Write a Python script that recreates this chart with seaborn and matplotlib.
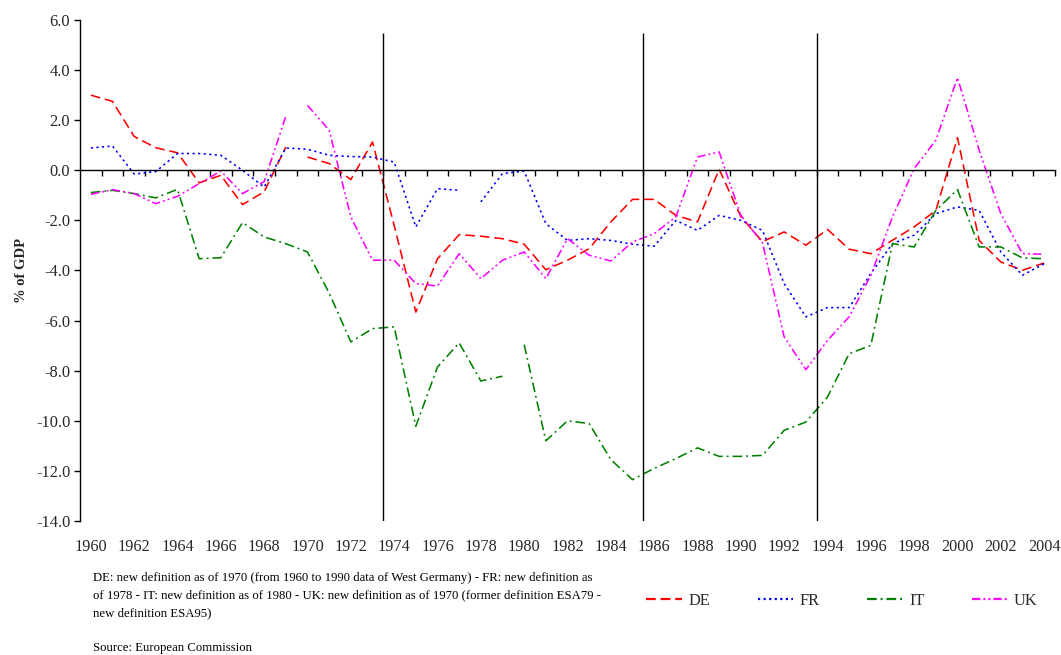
import numpy as np
import pandas as pd
import matplotlib
matplotlib.use("Agg")
import matplotlib.pyplot as plt
from matplotlib.lines import Line2D
import seaborn as sns

years = list(range(1960, 2005))

# breaks (new definitions) handled via segment start years
de = [3.0, 2.75, 1.35, 0.9, 0.7, -0.5, -0.2, -1.37, -0.86, 0.93,
      0.53, 0.27, -0.37, 1.13, -2.2, -5.66, -3.53, -2.57, -2.63, -2.73,
      -2.95, -3.97, -3.59, -3.13, -2.06, -1.16, -1.16, -1.8, -2.06, 0.04,
      -1.85, -2.85, -2.46, -2.99, -2.36, -3.15, -3.33, -2.79, -2.26, -1.6,
      1.3, -2.8, -3.66, -3.99, -3.7]
fr = [0.89, 0.97, -0.15, -0.05, 0.67, 0.67, 0.6, 0.0, -0.67, 0.89,
      0.84, 0.6, 0.55, 0.53, 0.33, -2.26, -0.73, -0.8, -1.26, -0.13,
      -0.03, -2.13, -2.8, -2.73, -2.8, -2.95, -3.03, -2.0, -2.4, -1.8,
      -2.0, -2.4, -4.52, -5.85, -5.48, -5.48, -4.12, -2.93, -2.59, -1.73,
      -1.46, -1.6, -3.26, -4.19, -3.73]
it = [-0.89, -0.8, -0.93, -1.1, -0.76, -3.53, -3.49, -2.09, -2.66, -2.93,
      -3.26, -4.9, -6.85, -6.32, -6.25, -10.22, -7.85, -6.89, -8.41, -8.22,
      -6.96, -10.8, -10.0, -10.11, -11.55, -12.35, -11.9, -11.51, -11.08, -11.42,
      -11.42, -11.38, -10.38, -10.05, -9.05, -7.32, -6.99, -2.93, -3.06, -1.6,
      -0.77, -3.06, -3.06, -3.5, -3.53]
uk = [-0.96, -0.77, -0.93, -1.33, -1.04, -0.53, -0.03, -0.93, -0.45, 2.16,
      2.59, 1.6, -1.86, -3.59, -3.59, -4.52, -4.62, -3.33, -4.32, -3.59,
      -3.26, -4.32, -2.73, -3.39, -3.62, -2.86, -2.53, -1.86, 0.53, 0.73,
      -1.8, -2.9, -6.65, -7.96, -6.79, -5.85, -4.19, -1.86, 0.07, 1.2,
      3.7, 0.8, -1.73, -3.33, -3.35]

countries = ["DE", "FR", "IT", "UK"]
series = {"DE": de, "FR": fr, "IT": it, "UK": uk}
new_definition_year = {"DE": 1970, "FR": 1978, "IT": 1980, "UK": 1970}
break_years = [1973.5, 1985.5, 1993.5]
xtick_years = list(range(1960, 2005, 2))
yticks = list(range(-14, 7, 2))

colors = {"DE": "#FF0000", "FR": "#0000FF", "IT": "#008000", "UK": "#FF00FF"}
dashes = {"DE": (7, 3.5), "FR": (1.6, 2.4), "IT": (7, 2.8, 1.4, 2.8),
          "UK": (6, 2.2, 1.4, 2.2, 1.4, 2.2)}

rows = []
for c in countries:
    for y, v in zip(years, series[c]):
        seg = 0 if y < new_definition_year[c] else 1
        rows.append({"year": y, "value": v, "country": c, "segment": seg})
df = pd.DataFrame(rows)

sns.set_theme(style="white")
plt.rcParams["font.family"] = ["Liberation Serif", "DejaVu Serif"]
plt.rcParams["axes.unicode_minus"] = False
plt.rcParams["lines.scale_dashes"] = False

fig = plt.figure(figsize=(10.61, 6.55), dpi=100)
ax = fig.add_axes([80 / 1061, 1 - 521 / 655, (1055 - 80) / 1061, (521 - 20) / 655])

sns.lineplot(data=df, x="year", y="value", hue="country", style="country",
             units="segment", estimator=None, palette=colors, dashes=dashes,
             hue_order=countries, style_order=countries,
             linewidth=1.15, legend=False, ax=ax)

ax.vlines(break_years, -14, 5.5, colors="black", linewidth=1.0)

ax.set_xlim(1959.5, 2004.5)
ax.set_ylim(-14, 6)
ax.set_yticks(yticks)
ax.set_yticklabels([f"{t:.1f}" for t in yticks])
ax.tick_params(axis="y", direction="out", length=4, width=1, color="black",
               labelsize=11.8, pad=3, left=True)

ax.spines["top"].set_visible(False)
ax.spines["right"].set_visible(False)
ax.spines["left"].set_color("black")
ax.spines["left"].set_linewidth(1.0)
ax.spines["bottom"].set_position(("data", 0))
ax.spines["bottom"].set_color("black")
ax.spines["bottom"].set_linewidth(1.0)
ax.set_xticks(np.arange(1960.5, 2005, 1))
ax.tick_params(axis="x", direction="out", length=4, width=1, color="black",
               labelbottom=False, bottom=True)
ax.set_xlabel("")
ax.set_ylabel("% of GDP", fontsize=10.5, fontweight="bold", labelpad=6)

sec = ax.secondary_xaxis("bottom")
sec.set_xticks(xtick_years)
sec.set_xticklabels([str(y) for y in xtick_years])
sec.tick_params(length=0, pad=13, labelsize=11.7)
sec.spines["bottom"].set_visible(False)

note = ("DE: new definition as of 1970 (from 1960 to 1990 data of West Germany) - FR: new definition as\n"
        "of 1978 - IT: new definition as of 1980 - UK: new definition as of 1970 (former definition ESA79 -\n"
        "new definition ESA95)")
fig.text(93 / 1061, 1 - 572 / 655, note, fontsize=9.2, va="top", ha="left",
         linespacing=1.6, color="black")
fig.text(93 / 1061, 1 - 648 / 655, "Source: European Commission", fontsize=9.2,
         va="center", ha="left", color="black")

handles = [Line2D([0], [0], color=colors[c], dashes=dashes[c], linewidth=1.6)
           for c in countries]
fig.legend(handles, countries, loc="center", bbox_to_anchor=(842 / 1061, 1 - 601 / 655),
           ncol=4, frameon=False, fontsize=11.7, handlelength=2.2,
           columnspacing=2.9, handletextpad=0.4)

fig.savefig("out.png", dpi=100, facecolor="white")
